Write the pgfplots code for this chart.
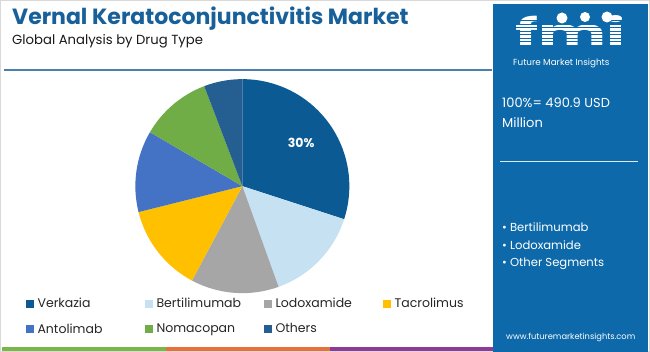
\documentclass[border=0pt]{standalone}
\usepackage{pgfplots}
\pgfplotsset{compat=1.18}
\usepackage{pgfplotstable}
\usepackage{graphicx}
\usepackage{fontspec}
\setmainfont{Poppins}

\definecolor{pie0}{HTML}{0B5A94}
\definecolor{pie1}{HTML}{C5E1F2}
\definecolor{pie2}{HTML}{A6A6A6}
\definecolor{pie3}{HTML}{FFC000}
\definecolor{pie4}{HTML}{4472C4}
\definecolor{pie5}{HTML}{70AD47}
\definecolor{pie6}{HTML}{255E91}
\definecolor{panel}{HTML}{0D69A9}
\definecolor{titleblue}{HTML}{17609A}
\definecolor{rulecol}{HTML}{4A7FAE}
\definecolor{stripG}{HTML}{7AB648}
\definecolor{stripO}{HTML}{E8703A}
\definecolor{stripP}{HTML}{8E3A96}

\pgfplotstableread{
label value
Verkazia 30.0
Bertilimumab 14.5
Lodoxamide 13.3
Tacrolimus 13.3
Antolimab 12.3
Nomacopan 10.8
Others 5.8
}\piedata

\begin{document}
\begin{tikzpicture}[x=1pt,y=1pt]
\useasboundingbox (0,0) rectangle (650,352);
\fill[white] (0,0) rectangle (650,352);
\draw[black!15, line width=1pt] (0.5,0.5) rectangle (649.5,351.5);

% title block
\node[anchor=base west, inner sep=0pt, text=titleblue, font=\bfseries\fontsize{22}{26}\selectfont] at (12,327) {Vernal Keratoconjunctivitis Market};
\node[anchor=base west, inner sep=0pt, text=black!90, font=\fontsize{13.2}{15}\selectfont] at (12,307) {Global Analysis by Drug Type};
\draw[rulecol, line width=1.3pt] (4,282) -- (492,282);

% bottom strips
\fill[stripG] (2,1) rectangle (166,5);
\fill[stripO] (166,1) rectangle (330,5);
\fill[stripP] (330,1) rectangle (493,5);

% right panel
\fill[panel] (493,0) rectangle (648,348);
\node[anchor=south west, inner sep=0pt, text=white] at (515,305) {\resizebox{110pt}{31pt}{\bfseries fmi}};
\foreach \yy in {307,310.5,...,334} {\draw[panel, line width=0.7pt] (512,\yy) -- (628,\yy);}
\fill[white] (562,334) circle (5.5);
\fill[white] (585,335) circle (5);
\fill[white] (607,335) circle (5.5);
\node[anchor=base west, inner sep=0pt, text=white, font=\fontsize{8.8}{10}\selectfont] at (513,286) {Future Market Insights};
\node[anchor=base west, inner sep=0pt, text=white, font=\fontsize{13}{15}\selectfont] at (502,244) {100\%= 490.9 USD};
\node[anchor=base west, inner sep=0pt, text=white, font=\fontsize{13}{15}\selectfont] at (502,224) {Million};
\draw[white!85!panel, line width=1pt] (500,190) -- (638,190);
\node[anchor=base west, inner sep=0pt, text=white, font=\fontsize{11.6}{13}\selectfont] at (502,120) {• Bertilimumab};
\node[anchor=base west, inner sep=0pt, text=white, font=\fontsize{11.6}{13}\selectfont] at (502,102) {• Lodoxamide};
\node[anchor=base west, inner sep=0pt, text=white, font=\fontsize{11.6}{13}\selectfont] at (502,85) {• Other Segments};
\node[anchor=base west, inner sep=0pt, text=white, font=\fontsize{8.3}{10}\selectfont] at (506,12) {www.futuremarketinsights.com};

% cumulative angles from the data
\xdef\cum{90}
\pgfplotsforeachungrouped \i in {0,...,6}{%
  \pgfplotstablegetelem{\i}{value}\of\piedata
  \pgfmathsetmacro\tmp{\cum-3.6*\pgfplotsretval}%
  \expandafter\xdef\csname pieS\i\endcsname{\cum}%
  \expandafter\xdef\csname pieE\i\endcsname{\tmp}%
  \xdef\cum{\tmp}%
}

\begin{axis}[at={(226.5,155)}, anchor=center, scale only axis,
  width=214pt, height=214pt, xmin=-1, xmax=1, ymin=-1, ymax=1,
  hide axis, clip=false,
  legend columns=4,
  legend style={at={(-0.528,-0.01)}, anchor=north west, draw=none, fill=none,
    font=\fontsize{12.5}{14}\selectfont, text=black!85, row sep=12pt,
    nodes={text width=106pt, align=left, inner sep=1pt},
    /tikz/every odd column/.append style={column sep=3pt}},
  legend image code/.code={\fill[#1] (0pt,-4pt) rectangle (8pt,4pt);}
]
\pgfplotsinvokeforeach{0,...,6}{%
  \fill[pie#1] (axis cs:0,0) -- (axis cs:{cos(\csname pieS#1\endcsname)},{sin(\csname pieS#1\endcsname)})
    arc[start angle=\csname pieS#1\endcsname, end angle=\csname pieE#1\endcsname, radius=107pt] -- cycle;
}
\node[text=white, font=\bfseries\fontsize{12.5}{14}\selectfont] at (axis cs:0.55,0.40) {30\%};
\addlegendimage{fill=pie0,draw=none}\addlegendentry{Verkazia}
\addlegendimage{fill=pie1,draw=none}\addlegendentry{Bertilimumab}
\addlegendimage{fill=pie2,draw=none}\addlegendentry{Lodoxamide}
\addlegendimage{fill=pie3,draw=none}\addlegendentry{Tacrolimus}
\addlegendimage{fill=pie4,draw=none}\addlegendentry{Antolimab}
\addlegendimage{fill=pie5,draw=none}\addlegendentry{Nomacopan}
\addlegendimage{fill=pie6,draw=none}\addlegendentry{Others}
\end{axis}
\end{tikzpicture}
\end{document}
